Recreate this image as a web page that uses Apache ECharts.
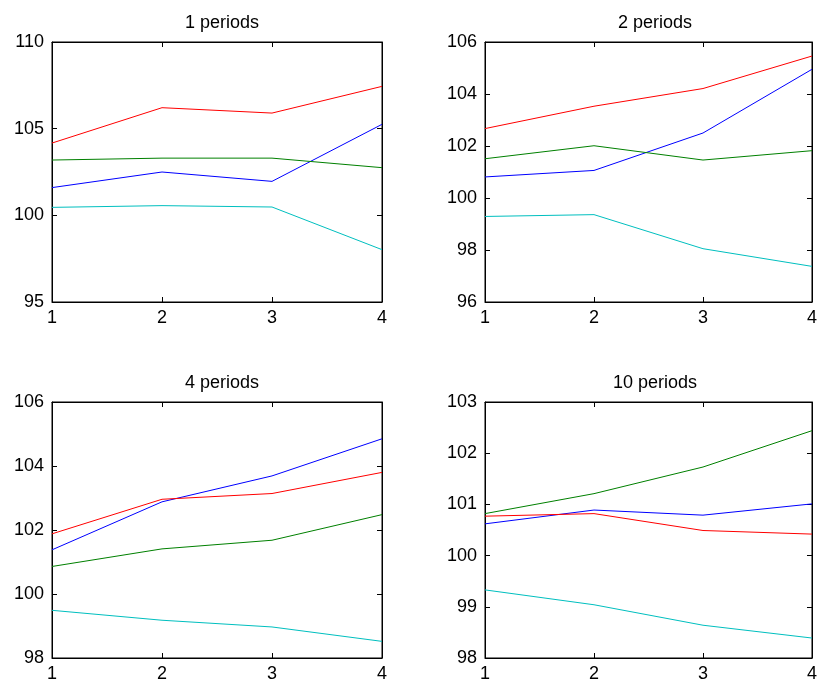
<!DOCTYPE html>
<html>
<head>
<meta charset="utf-8">
<script src="https://cdn.jsdelivr.net/npm/echarts@6/dist/echarts.min.js"></script>
<style>
  html, body { margin: 0; padding: 0; background: #fff; }
  #chart { width: 820px; height: 690px; }
</style>
</head>
<body>
<div id="chart"></div>
<script>
// x positions shared by every panel
const steps = [1, 2, 3, 4]
const titles = ['1 periods', '2 periods', '4 periods', '10 periods']

// panel 1
const blue1 = [101.6, 102.5, 101.96, 105.25]
const green1 = [103.19, 103.3, 103.3, 102.75]
const red1 = [104.17, 106.21, 105.9, 107.44]
const cyan1 = [100.46, 100.56, 100.48, 98.02]

// panel 2
const blue2 = [100.81, 101.06, 102.5, 104.95]
const green2 = [101.51, 102.01, 101.46, 101.82]
const red2 = [102.67, 103.53, 104.21, 105.46]
const cyan2 = [99.29, 99.36, 98.05, 97.37]

// panel 3
const blue3 = [101.38, 102.88, 103.69, 104.85]
const green3 = [100.86, 101.41, 101.68, 102.48]
const red3 = [101.88, 102.96, 103.14, 103.8]
const cyan3 = [99.49, 99.18, 98.97, 98.52]

// panel 4
const blue4 = [100.62, 100.89, 100.79, 101.01]
const green4 = [100.82, 101.21, 101.73, 102.44]
const red4 = [100.77, 100.82, 100.49, 100.42]
const cyan4 = [99.33, 99.04, 98.64, 98.39]

// y axis ticks per panel
const yMins = [95, 96, 98, 98]
const yMaxs = [110, 106, 106, 103]
const yIntervals = [5, 2, 2, 1]

const panels = [
  [blue1, green1, red1, cyan1],
  [blue2, green2, red2, cyan2],
  [blue3, green3, red3, cyan3],
  [blue4, green4, red4, cyan4]
]
const lineColors = ['#0000ff', '#008000', '#ff0000', '#00bfbf']

const boxes = [
  { left: 52, top: 42, width: 330, height: 260 },
  { left: 485, top: 42, width: 330, height: 260 },
  { left: 52, top: 402, width: 330, height: 256 },
  { left: 485, top: 402, width: 330, height: 256 }
]

const font = 'Liberation Sans'
const grid = []
const xAxis = []
const yAxis = []
const series = []
const title = []

boxes.forEach((b, i) => {
  grid.push({ ...b, show: true, borderColor: '#000', borderWidth: 1, containLabel: false })
  title.push({
    text: titles[i],
    left: b.left + b.width / 2,
    top: b.top - 33,
    textAlign: 'center',
    textStyle: { fontFamily: font, fontSize: 18, fontWeight: 'normal', color: '#000' }
  })
  const axisLine = { show: true, lineStyle: { color: '#000', width: 1 } }
  const tick = { show: true, inside: true, length: 5, lineStyle: { color: '#000' } }
  // bottom axis with labels
  xAxis.push({
    type: 'value', gridIndex: i, min: 1, max: 4, interval: 1, position: 'bottom',
    axisLine, axisTick: tick, splitLine: { show: false },
    axisLabel: { color: '#000', fontFamily: font, fontSize: 18, margin: 7 }
  })
  // mirrored top ticks
  xAxis.push({
    type: 'value', gridIndex: i, min: 1, max: 4, interval: 1, position: 'top',
    axisLine, axisTick: tick, splitLine: { show: false }, axisLabel: { show: false }
  })
  yAxis.push({
    type: 'value', gridIndex: i, min: yMins[i], max: yMaxs[i], interval: yIntervals[i], position: 'left',
    axisLine, axisTick: tick, splitLine: { show: false },
    axisLabel: { color: '#000', fontFamily: font, fontSize: 18, margin: 8 }
  })
  yAxis.push({
    type: 'value', gridIndex: i, min: yMins[i], max: yMaxs[i], interval: yIntervals[i], position: 'right',
    axisLine, axisTick: tick, splitLine: { show: false }, axisLabel: { show: false }
  })
  panels[i].forEach((vals, k) => {
    series.push({
      type: 'line',
      xAxisIndex: i * 2,
      yAxisIndex: i * 2,
      data: steps.map((x, j) => [x, vals[j]]),
      showSymbol: false,
      symbol: 'none',
      lineStyle: { color: lineColors[k], width: 1 },
      itemStyle: { color: lineColors[k] },
      animation: false
    })
  })
})

const chart = echarts.init(document.getElementById('chart'))
chart.setOption({
  backgroundColor: '#fff',
  animation: false,
  title,
  grid,
  xAxis,
  yAxis,
  series
})
</script>
</body>
</html>
